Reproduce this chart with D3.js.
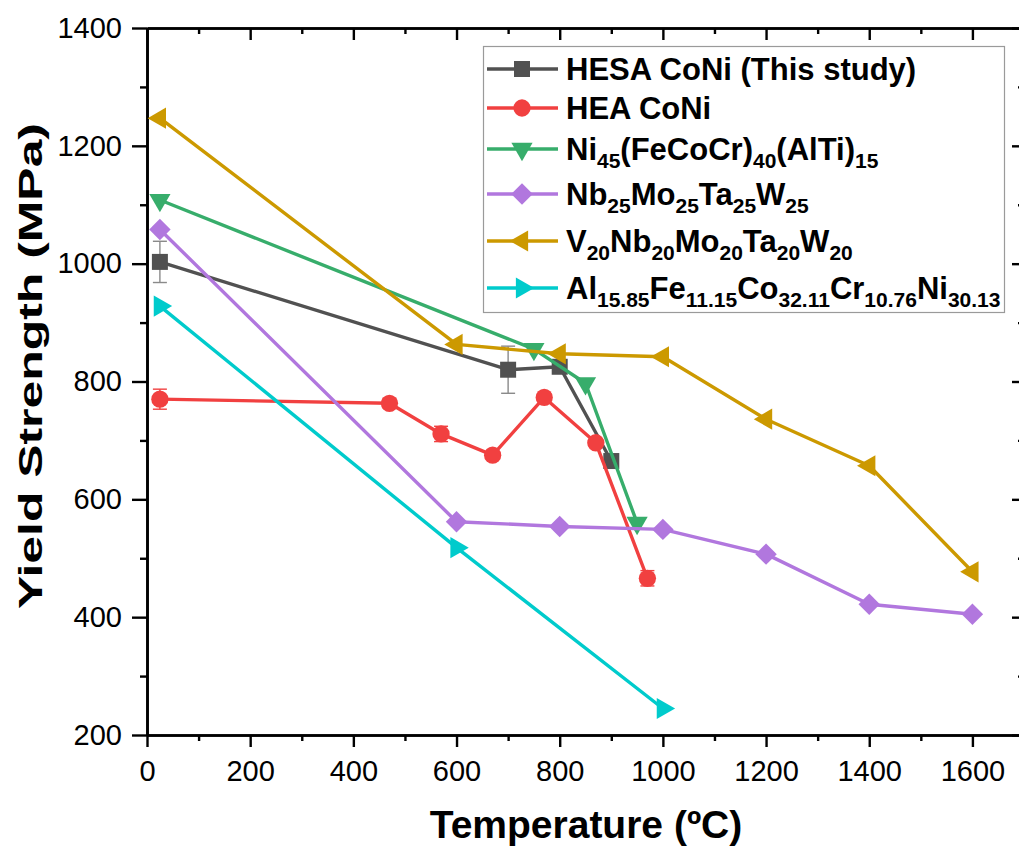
<!DOCTYPE html>
<html>
<head>
<meta charset="utf-8">
<script src="https://cdn.jsdelivr.net/npm/d3@7/dist/d3.min.js"></script>
<style>
  html, body { margin: 0; padding: 0; background: #fff; }
  svg { display: block; font-family: Arial, "Liberation Sans", sans-serif; }
</style>
</head>
<body>
<svg id="chart" width="1019" height="847"></svg>
<script>
// Yield strength vs temperature for several alloys
const hesaT = [25, 700, 800, 900];
const hesaY = [1003, 820, 825, 665];
const hesaErr = [35, 40, 8, 10];

const heaT = [25, 470, 570, 670, 770, 870, 970];
const heaY = [770, 763, 711, 675, 773, 696, 466];
const heaErr = [17, 8, 13, 6, 6, 6, 13];

const niT = [25, 750, 850, 950];
const niY = [1108, 855, 797, 560];

const nbT = [25, 600, 800, 1000, 1200, 1400, 1600];
const nbY = [1058, 562, 554, 549, 507, 422, 405];

const vT = [25, 600, 800, 1000, 1200, 1400, 1600];
const vY = [1247, 863, 847, 842, 736, 657, 477];

const alT = [25, 600, 1000];
const alY = [928, 518, 245];

const seriesNames = [
  "HESA CoNi (This study)",
  "HEA CoNi",
  "Ni_{45}(FeCoCr)_{40}(AlTi)_{15}",
  "Nb_{25}Mo_{25}Ta_{25}W_{25}",
  "V_{20}Nb_{20}Mo_{20}Ta_{20}W_{20}",
  "Al_{15.85}Fe_{11.15}Co_{32.11}Cr_{10.76}Ni_{30.13}"
];
const seriesColors = ["#515151", "#F14040", "#37AD6B", "#B177DE", "#CC9900", "#00CBCC"];

const xTicks = [0, 200, 400, 600, 800, 1000, 1200, 1400, 1600];
const xMinor = [100, 300, 500, 700, 900, 1100, 1300, 1500, 1700];
const yTicks = [200, 400, 600, 800, 1000, 1200, 1400];
const yMinor = [300, 500, 700, 900, 1100, 1300];

const series = [
  { t: hesaT, y: hesaY, err: hesaErr, shape: "square" },
  { t: heaT, y: heaY, err: heaErr, shape: "circle" },
  { t: niT, y: niY, shape: "down" },
  { t: nbT, y: nbY, shape: "diamond" },
  { t: vT, y: vY, shape: "left" },
  { t: alT, y: alY, shape: "right" }
].map((s, i) => ({ ...s, name: seriesNames[i], color: seriesColors[i] }));

const svg = d3.select("#chart");
const plotLeft = 147, plotRight = 1024, plotTop = 28, plotBottom = 735;

const x = d3.scaleLinear().domain([0, 1700]).range([plotLeft, plotRight]);
const y = d3.scaleLinear().domain([200, 1400]).range([plotBottom, plotTop]);
const fmt = d3.format("d");

function symbolPath(shape) {
  switch (shape) {
    case "square": return d3.symbol(d3.symbolSquare, 256)();
    case "circle": return d3.symbol(d3.symbolCircle, 235)();
    case "diamond": return d3.symbol(d3.symbolSquare, 230)();
    default: return d3.symbol(d3.symbolTriangle, 195)();
  }
}
function symbolRotate(shape) {
  return { diamond: 45, down: 180, left: -90, right: 90 }[shape] || 0;
}

// Axes
const axisStyle = g => {
  g.select(".domain").attr("stroke", "#000").attr("stroke-width", 2.6);
  g.selectAll(".tick line").attr("stroke", "#000").attr("stroke-width", 2.4);
};

svg.append("g").attr("transform", `translate(0,${plotBottom})`)
  .call(d3.axisBottom(x).tickValues(xMinor).tickSize(6).tickFormat("").tickSizeOuter(0))
  .call(axisStyle);
const xAxisG = svg.append("g").attr("transform", `translate(0,${plotBottom})`)
  .call(d3.axisBottom(x).tickValues(xTicks).tickFormat(fmt).tickSize(12).tickPadding(13).tickSizeOuter(0))
  .call(axisStyle);
xAxisG.selectAll(".tick text")
  .attr("font-size", 29).attr("fill", "#000")
  .attr("font-family", "Arial, 'Liberation Sans', sans-serif");

svg.append("g").attr("transform", `translate(${plotLeft},0)`)
  .call(d3.axisLeft(y).tickValues(yMinor).tickSize(7).tickFormat("").tickSizeOuter(0))
  .call(axisStyle);
const yAxisG = svg.append("g").attr("transform", `translate(${plotLeft},0)`)
  .call(d3.axisLeft(y).tickValues(yTicks).tickFormat(fmt).tickSize(15).tickPadding(10).tickSizeOuter(0))
  .call(axisStyle);
yAxisG.selectAll(".tick text")
  .attr("font-size", 29).attr("fill", "#000")
  .attr("font-family", "Arial, 'Liberation Sans', sans-serif");

// Top and right frame axes with inward ticks
svg.append("g").attr("transform", `translate(0,${plotTop})`)
  .call(d3.axisTop(x).tickValues(xTicks).tickSize(-12).tickFormat("").tickSizeOuter(0))
  .call(axisStyle);
svg.append("g").attr("transform", `translate(0,${plotTop})`)
  .call(d3.axisTop(x).tickValues(xMinor).tickSize(-6).tickFormat("").tickSizeOuter(0))
  .call(axisStyle);
svg.append("g").attr("transform", `translate(${plotRight},0)`)
  .call(d3.axisRight(y).tickValues(yTicks).tickSize(-12).tickFormat("").tickSizeOuter(0))
  .call(axisStyle);
svg.append("g").attr("transform", `translate(${plotRight},0)`)
  .call(d3.axisRight(y).tickValues(yMinor).tickSize(-6).tickFormat("").tickSizeOuter(0))
  .call(axisStyle);

// Axis titles
svg.append("text")
  .attr("x", 586).attr("y", 838)
  .attr("text-anchor", "middle")
  .attr("font-size", 39).attr("font-weight", "bold")
  .text("Temperature (ºC)");

svg.append("text")
  .attr("transform", `translate(42,366) rotate(-90)`)
  .attr("text-anchor", "middle")
  .attr("font-size", 33).attr("font-weight", "bold")
  .attr("textLength", 486).attr("lengthAdjust", "spacingAndGlyphs")
  .text("Yield Strength (MPa)");

// Series: lines, error bars, markers
const line = d3.line().x(d => x(d[0])).y(d => y(d[1]));
const plot = svg.append("g");

series.forEach(s => {
  const pts = s.t.map((t, i) => [t, s.y[i], s.err ? s.err[i] : 0]);
  const g = plot.append("g");
  g.append("path")
    .datum(pts)
    .attr("d", line)
    .attr("fill", "none")
    .attr("stroke", s.color)
    .attr("stroke-width", 3.4)
    .attr("stroke-linejoin", "round");

  if (s.err) {
    const errColor = s.shape === "square" ? "#8a8a8a" : s.color;
    const eb = g.selectAll(".eb").data(pts).join("g");
    eb.append("line")
      .attr("x1", d => x(d[0])).attr("x2", d => x(d[0]))
      .attr("y1", d => y(d[1] + d[2])).attr("y2", d => y(d[1] - d[2]))
      .attr("stroke", errColor).attr("stroke-width", 1.4);
    [1, -1].forEach(sign => {
      eb.append("line")
        .attr("x1", d => x(d[0]) - 7).attr("x2", d => x(d[0]) + 7)
        .attr("y1", d => y(d[1] + sign * d[2])).attr("y2", d => y(d[1] + sign * d[2]))
        .attr("stroke", errColor).attr("stroke-width", 1.4);
    });
  }

  g.selectAll(".m").data(pts).join("path")
    .attr("d", symbolPath(s.shape))
    .attr("transform", d => `translate(${x(d[0])},${y(d[1])}) rotate(${symbolRotate(s.shape)})`)
    .attr("fill", s.color);
});

// Legend
const legend = svg.append("g");
const legendRows = [69, 108, 149, 194, 241, 288];
legend.append("rect")
  .attr("x", 483.5).attr("y", 46.5)
  .attr("width", 521).attr("height", 266)
  .attr("fill", "#fff").attr("stroke", "#9a9a9a").attr("stroke-width", 1.2);

series.forEach((s, i) => {
  const ry = legendRows[i];
  legend.append("line")
    .attr("x1", 487).attr("x2", 558).attr("y1", ry).attr("y2", ry)
    .attr("stroke", s.color).attr("stroke-width", 3.4);
  legend.append("path")
    .attr("d", symbolPath(s.shape))
    .attr("transform", `translate(522,${ry}) rotate(${symbolRotate(s.shape)})`)
    .attr("fill", s.color);

  const txt = legend.append("text")
    .attr("x", 566).attr("y", ry + 11)
    .attr("font-size", 31).attr("font-weight", "bold").attr("fill", "#000");
  const parts = s.name.split(/(_\{[^}]*\})/).filter(p => p.length);
  let shifted = false;
  parts.forEach(p => {
    if (p.startsWith("_{")) {
      txt.append("tspan").attr("font-size", 21).attr("dy", shifted ? 0 : 8)
        .text(p.slice(2, -1));
      shifted = true;
    } else {
      txt.append("tspan").attr("dy", shifted ? -8 : 0).text(p);
      shifted = false;
    }
  });
});
</script>
</body>
</html>
